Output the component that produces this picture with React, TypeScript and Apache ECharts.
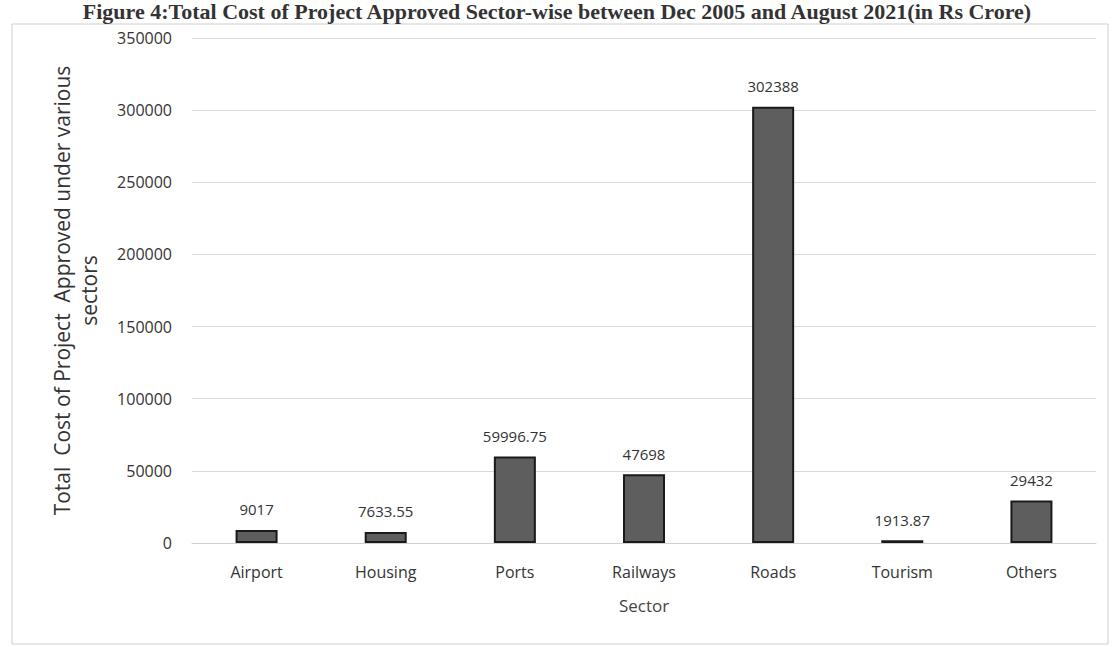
import React, { useEffect, useRef } from "react";
import * as echarts from "echarts";

const titleText =
  "Figure 4:Total Cost of Project Approved Sector-wise between Dec 2005 and August 2021(in Rs Crore)";
const sectors = ["Airport", "Housing", "Ports", "Railways", "Roads", "Tourism", "Others"];
const costs = [9017, 7633.55, 59996.75, 47698, 302388, 1913.87, 29432];
const costLabels = ["9017", "7633.55", "59996.75", "47698", "302388", "1913.87", "29432"];
const yName = "Total  Cost of Project  Approved under various\nsectors";
const xName = "Sector";

export default function App() {
  const ref = useRef<HTMLDivElement>(null);
  useEffect(() => {
    document.body.style.margin = "0";
    const chart = echarts.init(ref.current!, null, { renderer: "svg" });
    const font = "'Open Sans', 'Noto Sans', sans-serif";
    chart.setOption({
      animation: false,
      backgroundColor: "#ffffff",
      textStyle: { fontFamily: font },
      grid: { left: 192, right: 18, top: 38, bottom: 104, containLabel: false },
      graphic: [
        {
          type: "rect",
          shape: { x: 12, y: 24, width: 1096, height: 620 },
          style: { fill: "none", stroke: "#cfcfcf", lineWidth: 1 },
          silent: true,
        },
        {
          type: "text",
          x: 557,
          y: 0,
          style: {
            text: titleText,
            fontFamily: "'Liberation Serif', 'DejaVu Serif', serif",
            fontSize: 22,
            fontWeight: "bold",
            fill: "#333",
            align: "center",
            verticalAlign: "top",
          },
        },
      ],
      xAxis: {
        type: "category",
        data: sectors,
        name: xName,
        nameLocation: "middle",
        nameGap: 54,
        nameTextStyle: { fontSize: 17, color: "#444", fontFamily: font },
        axisLine: { show: true, lineStyle: { color: "#d0d0d0" } },
        axisTick: { show: false },
        axisLabel: { fontSize: 16, color: "#333", margin: 21, fontFamily: font },
      },
      yAxis: {
        type: "value",
        min: 0,
        max: 350000,
        interval: 50000,
        name: yName,
        nameLocation: "middle",
        nameRotate: 90,
        nameGap: 90,
        nameTextStyle: { fontSize: 21, color: "#333", fontFamily: font, lineHeight: 27 },
        axisLine: { show: false },
        axisTick: { show: false },
        axisLabel: {
          fontSize: 16,
          color: "#333",
          margin: 20,
          fontFamily: font,
          formatter: (v: number) => String(v),
        },
        splitLine: { lineStyle: { color: "#d9d9d9", width: 1 } },
      },
      series: [
        {
          type: "bar",
          data: costs,
          barWidth: 42,
          itemStyle: { color: "#5e5e5e", borderColor: "#1a1a1a", borderWidth: 2 },
          label: {
            show: true,
            position: "top",
            distance: 13,
            fontSize: 15,
            color: "#333",
            fontFamily: font,
            formatter: (p: any) => costLabels[p.dataIndex],
          },
        },
      ],
    });
    return () => chart.dispose();
  }, []);
  return <div ref={ref} style={{ width: 1114, height: 647 }} />;
}
